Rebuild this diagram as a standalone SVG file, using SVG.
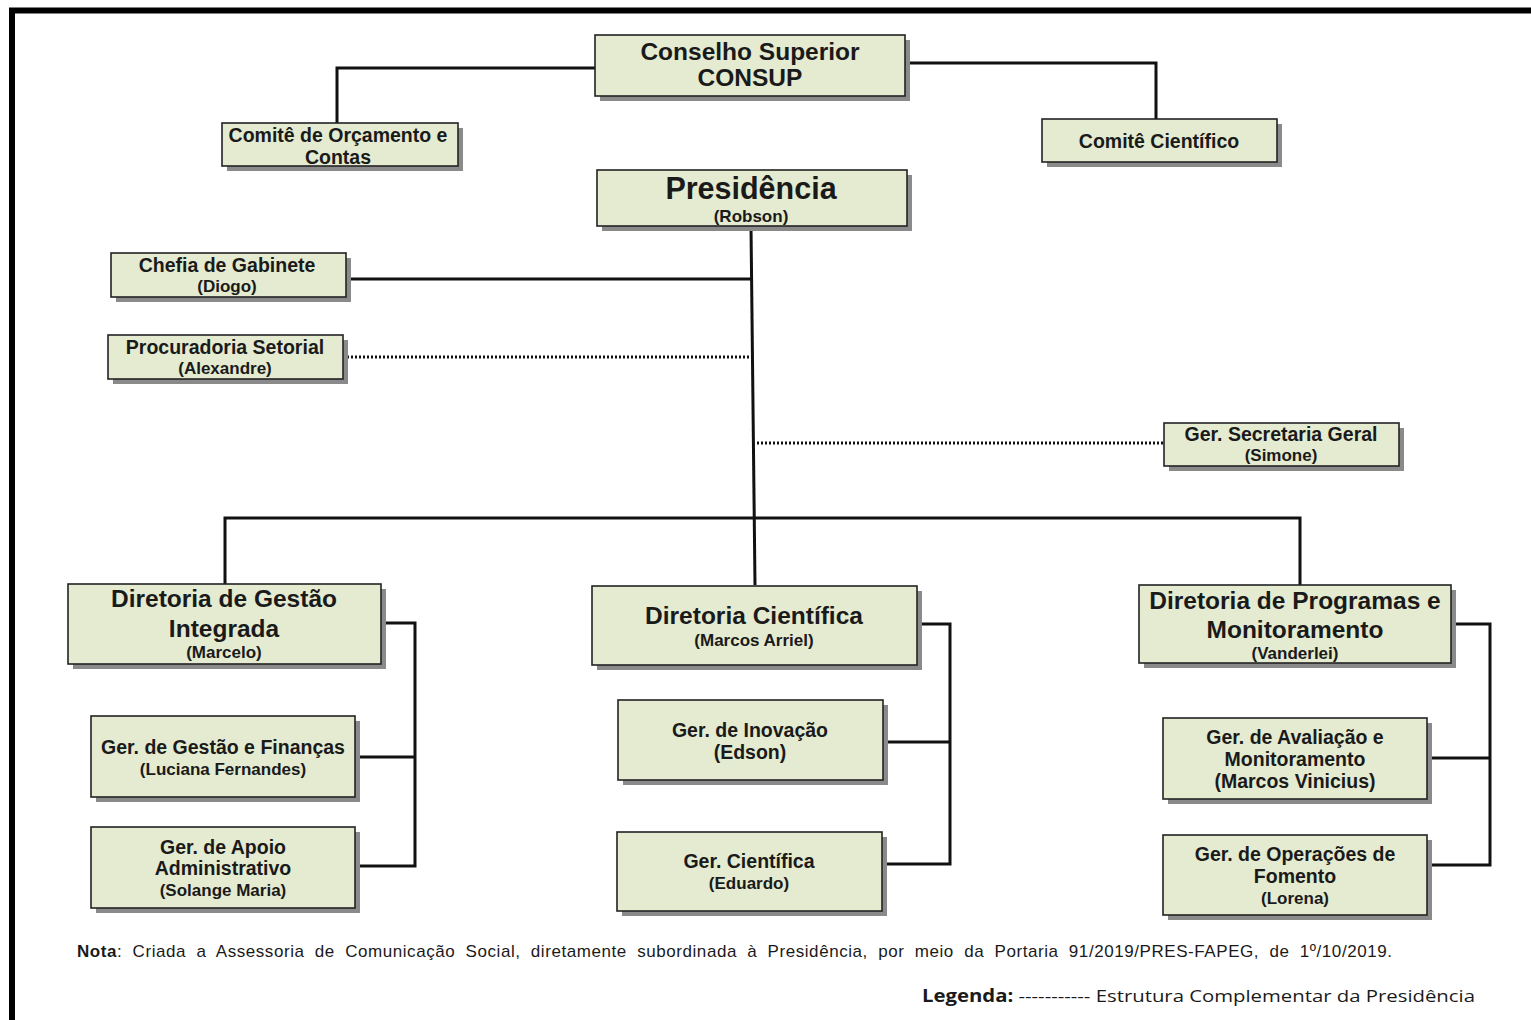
<svg xmlns="http://www.w3.org/2000/svg" width="1531" height="1020" viewBox="0 0 1531 1020">
<style>
.box{fill:#e4ebd0;stroke:#222;stroke-width:1.6}
.sh{fill:#8a8a8a}
text{font-family:"Liberation Sans",Arial,sans-serif;font-weight:bold;fill:#1a1a1a;text-anchor:middle}
.t17{font-size:19.5px}
.t15{font-size:17px}
.t21{font-size:24.5px}
.t27{font-size:30.5px}
.ln{fill:none;stroke:#111;stroke-width:3}
.dt{fill:none;stroke:#111;stroke-width:3;stroke-dasharray:2 2}
</style>
<rect width="1531" height="1020" fill="#fff"/>
<path d="M12 1020 V10.5 H1531" fill="none" stroke="#000" stroke-width="6"/>
<g id="connectors">
<path class="ln" d="M595 68 H337 V123"/>
<path class="ln" d="M905 63 H1156 V119"/>
<path class="ln" d="M751 226 L755 585"/>
<path class="ln" d="M346 279 H751"/>
<path class="dt" d="M343 357 H749"/>
<path class="dt" d="M757 443 H1164"/>
<path class="ln" d="M225 584 V518 H1300 V585"/>
<path class="ln" d="M381 623 H415 V866 H355 M355 757 H415"/>
<path class="ln" d="M917 624 H950 V864 H882 M883 742 H950"/>
<path class="ln" d="M1451 624 H1490 V865 H1427 M1427 758 H1490"/>
</g>
<g id="consup"><rect class="sh" x="600" y="40" width="310" height="61"/><rect class="box" x="595" y="35" width="310" height="61"/><text class="t21" x="750" y="60">Conselho Superior</text><text class="t21" x="750" y="86">CONSUP</text></g>
<g id="comite-orcamento"><rect class="sh" x="227" y="128" width="236" height="43"/><rect class="box" x="222" y="123" width="236" height="43"/><text class="t17" x="338" y="142">Comitê de Orçamento e</text><text class="t17" x="338" y="164">Contas</text></g>
<g id="comite-cientifico"><rect class="sh" x="1047" y="124" width="235" height="43"/><rect class="box" x="1042" y="119" width="235" height="43"/><text class="t17" x="1159" y="148">Comitê Científico</text></g>
<g id="presidencia"><rect class="sh" x="602" y="175" width="310" height="56"/><rect class="box" x="597" y="170" width="310" height="56"/><text class="t27" x="751" y="199">Presidência</text><text class="t15" x="751" y="222">(Robson)</text></g>
<g id="chefia"><rect class="sh" x="116" y="258" width="235" height="44"/><rect class="box" x="111" y="253" width="235" height="44"/><text class="t17" x="227" y="272">Chefia de Gabinete</text><text class="t15" x="227" y="292">(Diogo)</text></g>
<g id="procuradoria"><rect class="sh" x="113" y="340" width="235" height="44"/><rect class="box" x="108" y="335" width="235" height="44"/><text class="t17" x="225" y="354">Procuradoria Setorial</text><text class="t15" x="225" y="374">(Alexandre)</text></g>
<g id="secretaria"><rect class="sh" x="1169" y="428" width="235" height="43"/><rect class="box" x="1164" y="423" width="235" height="43"/><text class="t17" x="1281" y="441">Ger.  Secretaria Geral</text><text class="t15" x="1281" y="461">(Simone)</text></g>
<g id="dir-gestao"><rect class="sh" x="73" y="589" width="313" height="80"/><rect class="box" x="68" y="584" width="313" height="80"/><text class="t21" x="224" y="607">Diretoria  de  Gestão</text><text class="t21" x="224" y="637">Integrada</text><text class="t15" x="224" y="658">(Marcelo)</text></g>
<g id="dir-cientifica"><rect class="sh" x="597" y="591" width="325" height="79"/><rect class="box" x="592" y="586" width="325" height="79"/><text class="t21" x="754" y="624">Diretoria  Científica</text><text class="t15" x="754" y="646">(Marcos Arriel)</text></g>
<g id="dir-programas"><rect class="sh" x="1144" y="590" width="312" height="78"/><rect class="box" x="1139" y="585" width="312" height="78"/><text class="t21" x="1295" y="609">Diretoria de Programas  e</text><text class="t21" x="1295" y="638">Monitoramento</text><text class="t15" x="1295" y="659">(Vanderlei)</text></g>
<g id="ger-financas"><rect class="sh" x="96" y="721" width="264" height="81"/><rect class="box" x="91" y="716" width="264" height="81"/><text class="t17" x="223" y="754">Ger. de Gestão e Finanças</text><text class="t15" x="223" y="775">(Luciana Fernandes)</text></g>
<g id="ger-apoio"><rect class="sh" x="96" y="832" width="264" height="81"/><rect class="box" x="91" y="827" width="264" height="81"/><text class="t17" x="223" y="854">Ger. de Apoio</text><text class="t17" x="223" y="875">Administrativo</text><text class="t15" x="223" y="896">(Solange Maria)</text></g>
<g id="ger-inovacao"><rect class="sh" x="623" y="705" width="265" height="80"/><rect class="box" x="618" y="700" width="265" height="80"/><text class="t17" x="750" y="737">Ger. de Inovação</text><text class="t17" x="750" y="759">(Edson)</text></g>
<g id="ger-cientifica"><rect class="sh" x="622" y="837" width="265" height="79"/><rect class="box" x="617" y="832" width="265" height="79"/><text class="t17" x="749" y="868">Ger. Científica</text><text class="t15" x="749" y="889">(Eduardo)</text></g>
<g id="ger-avaliacao"><rect class="sh" x="1168" y="723" width="264" height="81"/><rect class="box" x="1163" y="718" width="264" height="81"/><text class="t17" x="1295" y="744">Ger. de Avaliação e</text><text class="t17" x="1295" y="766">Monitoramento</text><text class="t17" x="1295" y="788">(Marcos Vinicius)</text></g>
<g id="ger-fomento"><rect class="sh" x="1168" y="840" width="264" height="80"/><rect class="box" x="1163" y="835" width="264" height="80"/><text class="t17" x="1295" y="861">Ger. de Operações de</text><text class="t17" x="1295" y="883">Fomento</text><text class="t15" x="1295" y="904">(Lorena)</text></g>
<text x="77" y="957" style="font-size:17px;font-weight:normal;text-anchor:start;word-spacing:5px" textLength="1315" lengthAdjust="spacing"><tspan style="font-weight:bold">Nota</tspan>: Criada a Assessoria de Comunicação Social, diretamente subordinada à Presidência, por meio da Portaria 91/2019/PRES-FAPEG, de  1º/10/2019.</text>
<text x="922" y="1002" style="font-family:'Open Sans','Noto Sans',sans-serif;font-size:17px;font-weight:normal;text-anchor:start" textLength="553" lengthAdjust="spacingAndGlyphs"><tspan style="font-weight:bold">Legenda:</tspan> ----------- Estrutura Complementar da Presidência</text>
</svg>
